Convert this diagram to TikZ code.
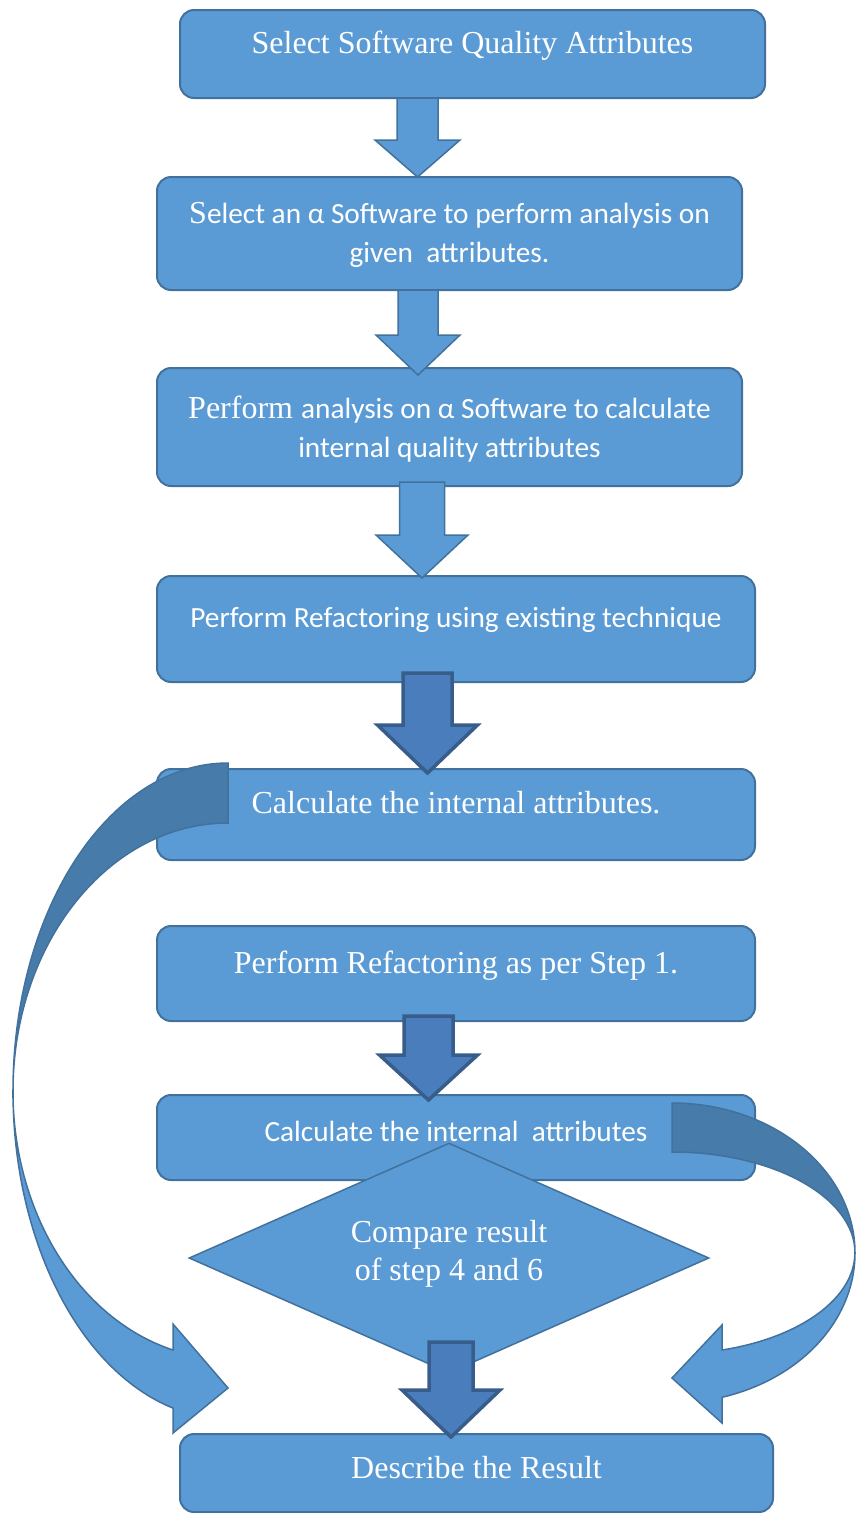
\documentclass[tikz,border=0pt]{standalone}
\usepackage{fontspec}
\setmainfont{Liberation Serif}
\newfontfamily\calib{Carlito}
\usetikzlibrary{shapes.geometric}
\definecolor{bfill}{HTML}{5B9BD5}
\definecolor{bline}{HTML}{41719C}
\definecolor{dfill}{HTML}{4A7DBB}
\definecolor{dline}{HTML}{385D8A}
\definecolor{band}{HTML}{477BAA}
\newcommand\SF{\fontsize{32}{38}\selectfont}
\newcommand\CB{\calib\fontsize{29.3}{35}\selectfont}
\newcommand\barrow[7]{\draw[#1] ({#2-#4},#3) -- ({#2+#4},#3) -- ({#2+#4},#5) -- ({#2+#6},#5) -- (#2,#7) -- ({#2-#6},#5) -- ({#2-#4},#5) -- cycle;}
\begin{document}
\begin{tikzpicture}[x=1pt,y=-1pt,
 box/.style={draw=bline,fill=bfill,line width=2pt,rounded corners=14pt,inner sep=0pt},
 lbl/.style={text=white,anchor=base,inner sep=0pt,font=\SF},
 larrow/.style={draw=bline,fill=bfill,line width=1.5pt},
 darrow/.style={draw=dline,fill=dfill,line width=3.5pt},
 bandst/.style={draw=bline,fill=band,line width=1.5pt},
 frontst/.style={draw=bline,fill=bfill,line width=1.5pt}]
\path[use as bounding box] (0,0) rectangle (856,1513);

% boxes
\node[box,minimum width=585pt,minimum height=88pt] (b1) at (472.5,54) {};
\node[box,minimum width=585pt,minimum height=113pt] (b2) at (449.5,233.5) {};
\node[box,minimum width=585pt,minimum height=118pt] (b3) at (449.5,427) {};
\node[box,minimum width=598pt,minimum height=106pt] (b4) at (456,629) {};
\node[box,minimum width=598pt,minimum height=91pt] (b5) at (456,814.5) {};
\node[box,minimum width=598pt,minimum height=95pt] (b6) at (456,973.5) {};
\node[box,minimum width=598pt,minimum height=85pt] (b7) at (456,1137.5) {};
\node[box,minimum width=593pt,minimum height=78pt] (b9) at (476.5,1473) {};

% block arrows
\barrow{larrow}{417.5}{98}{20.5}{140}{42.5}{177}
\barrow{larrow}{418}{290}{20}{335}{42}{375}
\barrow{larrow}{422}{482}{22.5}{535}{46}{578}
\barrow{darrow}{427.5}{673}{24.5}{725}{50}{773}
\barrow{darrow}{428.5}{1016}{24.5}{1055}{49}{1100}

% labels
\node[lbl] (t1) at (472.5,53) {Select Software Quality Attributes};
\node[lbl] (t2a) at (449.5,223) {S{\CB elect an α Software to perform analysis on}};
\node[lbl] (t2b) at (449.5,262) {\CB given\ \ attributes.};
\node[lbl] (t3a) at (449.5,418) {Perform {\CB analysis on α Software to calculate}};
\node[lbl] (t3b) at (449.5,457) {\CB internal quality attributes};
\node[lbl] (t4) at (456,627) {\CB Perform Refactoring using existing technique};
\node[lbl] (t5) at (456,813) {Calculate the internal attributes.};
\node[lbl] (t6) at (456,973) {Perform Refactoring as per Step 1.};
\node[lbl] (t7) at (456,1141) {\CB Calculate the internal\ \ attributes};

% left curved arrow
\draw[bandst] (228,763) arc[start angle=270,end angle=180,x radius=215,y radius=328]
  arc[start angle=180,end angle=270,x radius=215,y radius=268] -- cycle;
\draw[frontst] (13,1091) arc[start angle=180,end angle=104.8,x radius=215,y radius=328]
  -- (173,1433) -- (228,1388) -- (173,1324) -- (173,1350)
  arc[start angle=104.8,end angle=180,x radius=215,y radius=268] -- cycle;

% right curved arrow
\draw[bandst] (672,1103) arc[start angle=270,end angle=360,x radius=183,y radius=150]
  arc[start angle=360,end angle=270,x radius=183,y radius=101] -- cycle;
\draw[frontst] (855,1253) arc[start angle=0,end angle=74.1,x radius=183,y radius=150]
  -- (722,1423) -- (672,1378) -- (722,1325) -- (722,1350)
  arc[start angle=74.1,end angle=0,x radius=183,y radius=101] -- cycle;

% diamond
\node[diamond,draw=bline,fill=bfill,line width=1.5pt,minimum width=520pt,minimum height=230pt,inner sep=0pt] (d) at (449,1258) {};
\node[lbl] (t8a) at (449,1242) {Compare result};
\node[lbl] (t8b) at (449,1280) {of step 4 and 6};

\barrow{darrow}{451}{1342}{22}{1390}{49}{1437}

\node[lbl] (t9) at (476.5,1478) {Describe the Result};
\end{tikzpicture}
\end{document}
